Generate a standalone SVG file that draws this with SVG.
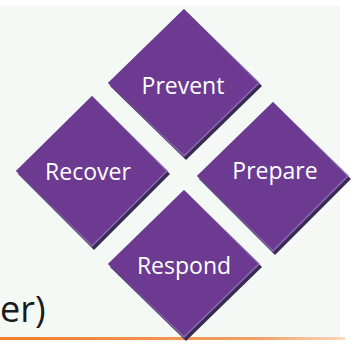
<svg xmlns="http://www.w3.org/2000/svg" width="356" height="348" viewBox="0 0 356 348">
<defs>
<linearGradient id="orange" x1="0" y1="0" x2="1" y2="0">
<stop offset="0" stop-color="#f07d2c"/>
<stop offset="0.75" stop-color="#f3a066"/>
<stop offset="1" stop-color="#f9d8bd"/>
</linearGradient>
<style>
.shadow{fill:#3a2b52}
.edge{fill:#8b6bb3}
.face{fill:#6c3a91}
.lbl{font-family:"Open Sans","Liberation Sans",sans-serif;font-size:23px;fill:#ffffff;text-anchor:middle}
</style>
</defs>
<rect x="0" y="0" width="356" height="348" fill="#ffffff"/>
<rect x="0" y="6" width="340" height="332" fill="#f5f9f6"/>
<rect x="0" y="337" width="345" height="3" fill="url(#orange)"/>
<text x="0" y="322" font-family="Open Sans, Liberation Sans, sans-serif" font-size="36" fill="#1a1a1a">er)</text>
<g id="prevent">
<polygon class="shadow" points="186,12 262,86 186,160 110,86"/>
<polygon class="edge" points="184,9 260,83 184,157 108,83"/>
<polygon class="face" points="184,9 258,83 184,155 108,83"/>
<text class="lbl" x="183" y="94">Prevent</text>
</g>
<g id="recover">
<polygon class="shadow" points="94,99 170,174 94,250 18,174"/>
<polygon class="edge" points="92,96 168,171 92,247 16,171"/>
<polygon class="face" points="92,96 166,171 92,245 16,171"/>
<text class="lbl" x="88" y="180">Recover</text>
</g>
<g id="prepare">
<polygon class="shadow" points="275,105 351,179 275,255 199,179"/>
<polygon class="edge" points="273,102 349,176 273,252 197,176"/>
<polygon class="face" points="273,102 347,176 273,250 197,176"/>
<text class="lbl" x="275" y="179">Prepare</text>
</g>
<g id="respond">
<polygon class="shadow" points="186,193 262,267 186,341 110,267"/>
<polygon class="edge" points="184,190 260,264 184,338 108,264"/>
<polygon class="face" points="184,190 258,264 184,336 108,264"/>
<text class="lbl" x="184" y="274">Respond</text>
</g>
<g id="connectors"/>
</svg>
